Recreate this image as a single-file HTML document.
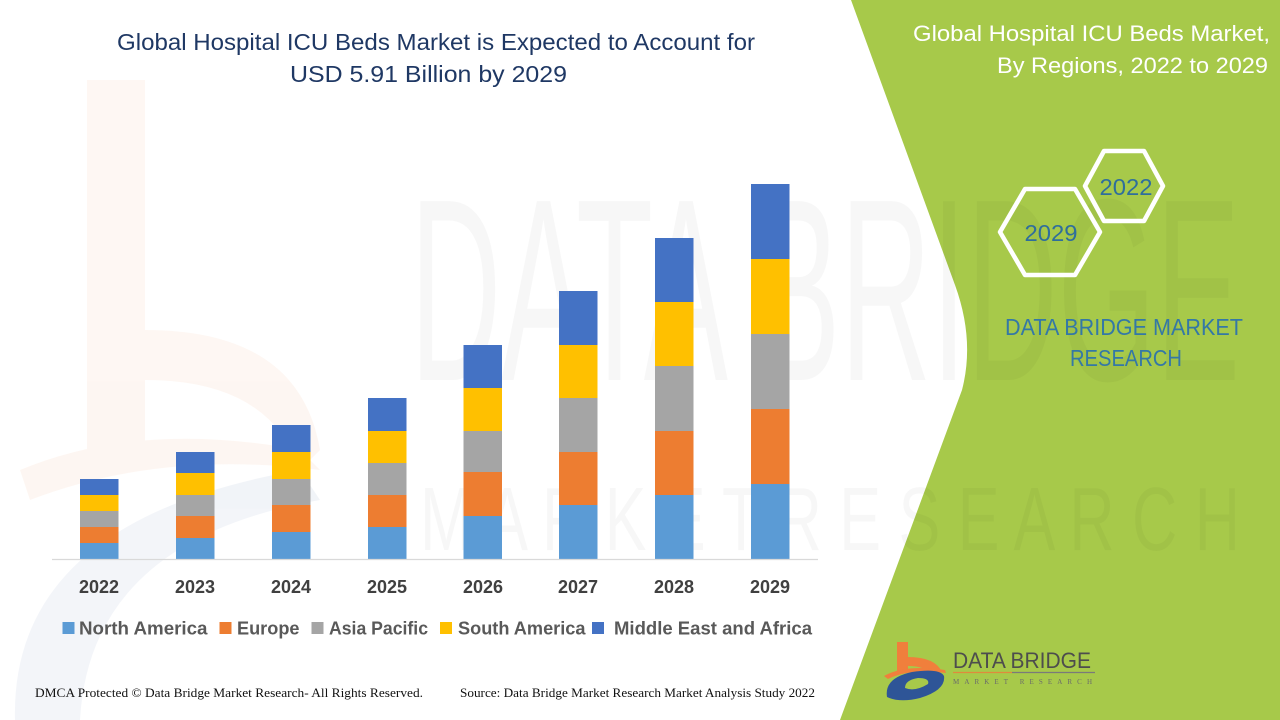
<!DOCTYPE html>
<html>
<head>
<meta charset="utf-8">
<style>
  html,body{margin:0;padding:0;background:#fff;}
  svg{display:block;}
</style>
</head>
<body>
<svg width="1280" height="720" viewBox="0 0 1280 720" xmlns="http://www.w3.org/2000/svg">
  <rect width="1280" height="720" fill="#ffffff"/>

  <!-- faint watermark logo left -->
  <g opacity="0.06">
    <path d="M87,80 L145,80 L145,330 Q300,330 320,450 L300,470 Q270,380 145,380 L145,460 L87,470 Z" fill="#ED7D31"/>
    <path d="M20,470 Q140,420 300,450 L320,470 Q160,450 30,500 Z" fill="#ED7D31"/>
    <path d="M15,720 Q10,520 300,470 L320,500 Q90,540 80,720 Z" fill="#2E5597"/>
  </g>

  <!-- green panel -->
  <path d="M851,0 L1280,0 L1280,720 L840,720 L962,390 Q975,340 955,285 Z" fill="#A7C94A"/>

  <!-- watermark text -->
  <g opacity="0.028" font-family="Liberation Sans, sans-serif" fill="#000">
    <text x="410" y="380" font-size="260" textLength="830" lengthAdjust="spacingAndGlyphs">DATA BRIDGE</text>
    <text x="420" y="550" font-size="90" textLength="820" lengthAdjust="spacingAndGlyphs">M A R K E T  R E S E A R C H</text>
  </g>

  <!-- main title -->
  <g font-family="Liberation Sans, sans-serif" fill="#1F3864" font-size="23">
    <text x="117" y="50" textLength="638" lengthAdjust="spacingAndGlyphs">Global Hospital ICU Beds Market is Expected to Account for</text>
    <text x="290" y="82" textLength="277" lengthAdjust="spacingAndGlyphs">USD 5.91 Billion by 2029</text>
  </g>

  <!-- bars -->
  <g>
    <rect x="80" y="543" width="38.5" height="16" fill="#5B9BD5"/>
    <rect x="80" y="527" width="38.5" height="16" fill="#ED7D31"/>
    <rect x="80" y="511" width="38.5" height="16" fill="#A5A5A5"/>
    <rect x="80" y="495" width="38.5" height="16" fill="#FFC000"/>
    <rect x="80" y="479" width="38.5" height="16" fill="#4472C4"/>

    <rect x="176" y="538" width="38.5" height="21" fill="#5B9BD5"/>
    <rect x="176" y="516" width="38.5" height="22" fill="#ED7D31"/>
    <rect x="176" y="495" width="38.5" height="21" fill="#A5A5A5"/>
    <rect x="176" y="473" width="38.5" height="22" fill="#FFC000"/>
    <rect x="176" y="452" width="38.5" height="21" fill="#4472C4"/>

    <rect x="272" y="532" width="38.5" height="27" fill="#5B9BD5"/>
    <rect x="272" y="505" width="38.5" height="27" fill="#ED7D31"/>
    <rect x="272" y="479" width="38.5" height="26" fill="#A5A5A5"/>
    <rect x="272" y="452" width="38.5" height="27" fill="#FFC000"/>
    <rect x="272" y="425" width="38.5" height="27" fill="#4472C4"/>

    <rect x="368" y="527" width="38.5" height="32" fill="#5B9BD5"/>
    <rect x="368" y="495" width="38.5" height="32" fill="#ED7D31"/>
    <rect x="368" y="463" width="38.5" height="32" fill="#A5A5A5"/>
    <rect x="368" y="431" width="38.5" height="32" fill="#FFC000"/>
    <rect x="368" y="398" width="38.5" height="33" fill="#4472C4"/>

    <rect x="463.5" y="516" width="38.5" height="43" fill="#5B9BD5"/>
    <rect x="463.5" y="472" width="38.5" height="44" fill="#ED7D31"/>
    <rect x="463.5" y="431" width="38.5" height="41" fill="#A5A5A5"/>
    <rect x="463.5" y="388" width="38.5" height="43" fill="#FFC000"/>
    <rect x="463.5" y="345" width="38.5" height="43" fill="#4472C4"/>

    <rect x="559" y="505" width="38.5" height="54" fill="#5B9BD5"/>
    <rect x="559" y="452" width="38.5" height="53" fill="#ED7D31"/>
    <rect x="559" y="398" width="38.5" height="54" fill="#A5A5A5"/>
    <rect x="559" y="345" width="38.5" height="53" fill="#FFC000"/>
    <rect x="559" y="291" width="38.5" height="54" fill="#4472C4"/>

    <rect x="655" y="495" width="38.5" height="64" fill="#5B9BD5"/>
    <rect x="655" y="431" width="38.5" height="64" fill="#ED7D31"/>
    <rect x="655" y="366" width="38.5" height="65" fill="#A5A5A5"/>
    <rect x="655" y="302" width="38.5" height="64" fill="#FFC000"/>
    <rect x="655" y="238" width="38.5" height="64" fill="#4472C4"/>

    <rect x="751" y="484" width="38.5" height="75" fill="#5B9BD5"/>
    <rect x="751" y="409" width="38.5" height="75" fill="#ED7D31"/>
    <rect x="751" y="334" width="38.5" height="75" fill="#A5A5A5"/>
    <rect x="751" y="259" width="38.5" height="75" fill="#FFC000"/>
    <rect x="751" y="184" width="38.5" height="75" fill="#4472C4"/>
  </g>

  <!-- axis -->
  <line x1="52" y1="559.5" x2="818" y2="559.5" stroke="#D9D9D9" stroke-width="1.2"/>

  <!-- year labels -->
  <g font-family="Liberation Sans, sans-serif" font-weight="bold" font-size="18" fill="#404040" text-anchor="middle">
    <text x="99" y="593">2022</text>
    <text x="195" y="593">2023</text>
    <text x="291" y="593">2024</text>
    <text x="387" y="593">2025</text>
    <text x="483" y="593">2026</text>
    <text x="578" y="593">2027</text>
    <text x="674" y="593">2028</text>
    <text x="770" y="593">2029</text>
  </g>

  <!-- legend -->
  <g>
    <rect x="62.5" y="622" width="12" height="12" fill="#5B9BD5"/>
    <rect x="219.5" y="622" width="12" height="12" fill="#ED7D31"/>
    <rect x="311.5" y="622" width="12" height="12" fill="#A5A5A5"/>
    <rect x="440" y="622" width="12" height="12" fill="#FFC000"/>
    <rect x="592" y="622" width="12" height="12" fill="#4472C4"/>
  </g>
  <g font-family="Liberation Sans, sans-serif" font-weight="bold" font-size="18" fill="#595959">
    <text x="79" y="634.5" textLength="128.5" lengthAdjust="spacingAndGlyphs">North America</text>
    <text x="237" y="634.5" textLength="62.5" lengthAdjust="spacingAndGlyphs">Europe</text>
    <text x="329" y="634.5" textLength="99" lengthAdjust="spacingAndGlyphs">Asia Pacific</text>
    <text x="458" y="634.5" textLength="127.5" lengthAdjust="spacingAndGlyphs">South America</text>
    <text x="614" y="634.5" textLength="198" lengthAdjust="spacingAndGlyphs">Middle East and Africa</text>
  </g>

  <!-- footer -->
  <g font-family="Liberation Serif, serif" font-size="12.5" fill="#111">
    <text x="35" y="697" textLength="388" lengthAdjust="spacingAndGlyphs">DMCA Protected © Data Bridge Market Research- All Rights Reserved.</text>
    <text x="460" y="697" textLength="355" lengthAdjust="spacingAndGlyphs">Source: Data Bridge Market Research Market Analysis Study 2022</text>
  </g>

  <!-- right panel title -->
  <g font-family="Liberation Sans, sans-serif" fill="#ffffff" font-size="22" text-anchor="end">
    <text x="1270" y="41" textLength="357" lengthAdjust="spacingAndGlyphs">Global Hospital ICU Beds Market,</text>
    <text x="1268" y="73" textLength="271" lengthAdjust="spacingAndGlyphs">By Regions, 2022 to 2029</text>
  </g>

  <!-- hexagons -->
  <g fill="none" stroke="#ffffff" stroke-width="4.5" stroke-linejoin="round">
    <polygon points="1085,186 1104,151 1144,151 1163,186 1144,221 1104,221"/>
    <polygon points="1000,232 1025,189 1075,189 1100,232 1075,275 1025,275"/>
  </g>
  <g font-family="Liberation Sans, sans-serif" fill="#2F6E9C" font-size="23" text-anchor="middle">
    <text x="1126" y="195" textLength="53" lengthAdjust="spacingAndGlyphs">2022</text>
    <text x="1051" y="241" textLength="53" lengthAdjust="spacingAndGlyphs">2029</text>
  </g>

  <!-- DATA BRIDGE MARKET RESEARCH -->
  <g font-family="Liberation Sans, sans-serif" fill="#3478A6" font-size="23">
    <text x="1005" y="335" textLength="238" lengthAdjust="spacingAndGlyphs">DATA BRIDGE MARKET</text>
    <text x="1070" y="366" textLength="112" lengthAdjust="spacingAndGlyphs">RESEARCH</text>
  </g>

  <!-- bottom-right logo -->
  <g>
    <path d="M897,642 L908,642 L908,657 Q935,657 942,672 L930,674 Q925,666 908,666 L908,672 L897,673 Z" fill="#F07F3C"/>
    <path d="M884,676 Q905,664 945,670 L946,673 Q910,668 888,679 Z" fill="#F07F3C"/>
    <path d="M887,697 Q884,678 912,672 Q940,668 944,676 Q946,690 920,698 Q900,703 887,697 Z M905,688 Q915,692 928,684 Q930,678 918,678 Q905,680 905,688 Z" fill="#2E5597" fill-rule="evenodd"/>
  </g>
  <text x="953" y="668" font-family="Liberation Sans, sans-serif" font-size="22" fill="#4D4D4D" textLength="138" lengthAdjust="spacingAndGlyphs">DATA BRIDGE</text>
  <line x1="953" y1="672.5" x2="1012" y2="672.5" stroke="#E08A3C" stroke-width="1.2"/>
  <line x1="1012" y1="672.5" x2="1095" y2="672.5" stroke="#7A7A7A" stroke-width="1.2"/>
  <text x="953" y="684" font-family="Liberation Serif, serif" font-size="7" fill="#6B6B6B" textLength="139" lengthAdjust="spacing">MARKET   RESEARCH</text>
</svg>
</body>
</html>
